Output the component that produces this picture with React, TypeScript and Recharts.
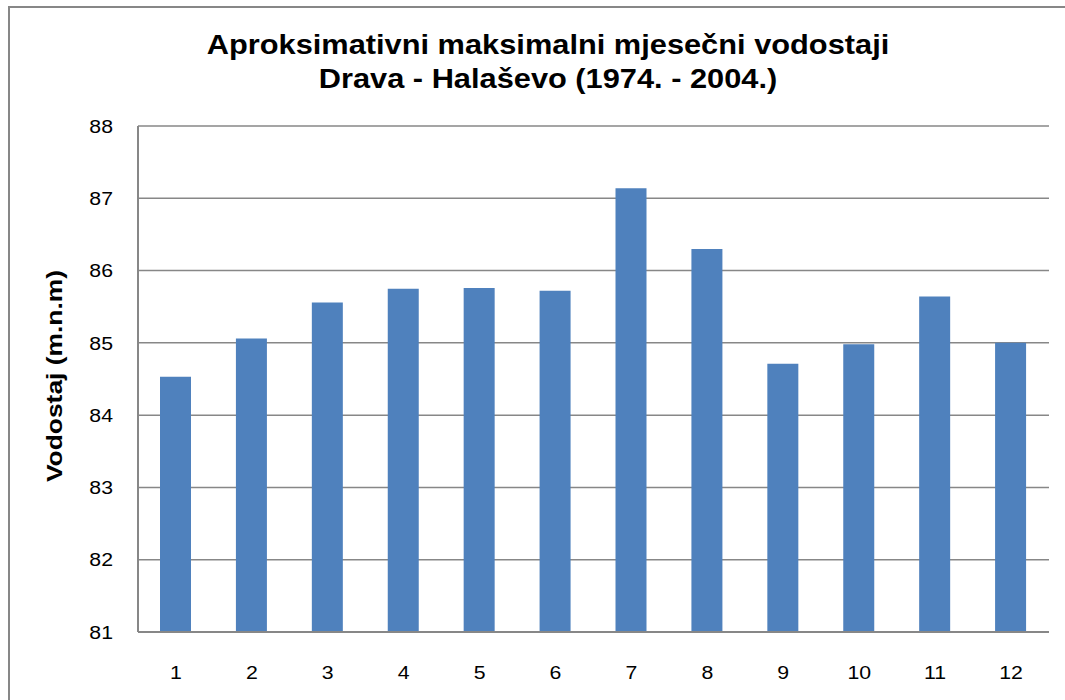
import { Bar, BarChart, CartesianGrid, XAxis, YAxis } from "recharts";

const months = ["1", "2", "3", "4", "5", "6", "7", "8", "9", "10", "11", "12"];
const waterLevels = [84.53, 85.06, 85.56, 85.75, 85.76, 85.72, 87.14, 86.3, 84.71, 84.98, 85.64, 85.0];
const levelTicks = [81, 82, 83, 84, 85, 86, 87, 88];

const data = months.map((month, i) => ({ month, level: waterLevels[i] }));

const font = "'Liberation Sans', Arial, sans-serif";
const gray = "#878787";

// Excel renders its text a bit wider than Liberation Sans, so stretch it a little
const MonthTick = ({ x, y, payload }: any) => (
  <g transform={`translate(${x},${y})`}>
    <text transform="scale(1.12,1)" textAnchor="middle" dy="0.71em" fill="#000" fontSize={19} fontFamily={font}>
      {payload.value}
    </text>
  </g>
);

const LevelTick = ({ x, y, payload }: any) => (
  <g transform={`translate(${x},${y})`}>
    <text transform="scale(1.12,1)" textAnchor="end" dy="0.355em" fill="#000" fontSize={19} fontFamily={font}>
      {payload.value}
    </text>
  </g>
);

export default function App() {
  return (
    <div
      style={{
        position: "fixed",
        left: 0,
        top: 0,
        width: 1065,
        height: 700,
        overflow: "hidden",
        background: "#fff",
        fontFamily: font,
      }}
    >
      {/* chart frame: only its left and top edges fall inside the picture */}
      <div
        style={{
          position: "absolute",
          left: 8,
          top: 6,
          width: 1057,
          height: 694,
          borderLeft: `2px solid ${gray}`,
          borderTop: `2px solid ${gray}`,
        }}
      />
      <div
        style={{
          position: "absolute",
          left: 0,
          top: 28,
          width: 1096,
          textAlign: "center",
          fontSize: 27,
          fontWeight: "bold",
          lineHeight: "34px",
          color: "#000",
          transform: "scaleX(1.14)",
        }}
      >
        Aproksimativni maksimalni mjesečni vodostaji
        <br />
        Drava - Halaševo (1974. - 2004.)
      </div>
      <div
        style={{
          position: "absolute",
          left: 55 - 150,
          top: 376 - 13,
          width: 300,
          height: 26,
          lineHeight: "26px",
          textAlign: "center",
          fontSize: 22,
          fontWeight: "bold",
          transform: "rotate(-90deg) scaleX(1.2)",
          color: "#000",
        }}
      >
        Vodostaj (m.n.m)
      </div>
      <div style={{ position: "absolute", left: 0, top: 0 }}>
        <BarChart
          width={1065}
          height={700}
          data={data}
          margin={{ top: 126, right: 16, left: 58, bottom: 8 }}
          barSize={31}
        >
          <CartesianGrid stroke={gray} strokeWidth={1.5} vertical={false} />
          <XAxis
            dataKey="month"
            height={60}
            axisLine={{ stroke: gray, strokeWidth: 2 }}
            tickLine={false}
            tickSize={32}
            tick={<MonthTick />}
          />
          <YAxis
            domain={[81, 88]}
            ticks={levelTicks}
            width={80}
            axisLine={{ stroke: gray, strokeWidth: 2 }}
            tickLine={false}
            tickSize={23}
            tick={<LevelTick />}
          />
          <Bar dataKey="level" fill="#4F81BD" isAnimationActive={false} />
        </BarChart>
      </div>
    </div>
  );
}
